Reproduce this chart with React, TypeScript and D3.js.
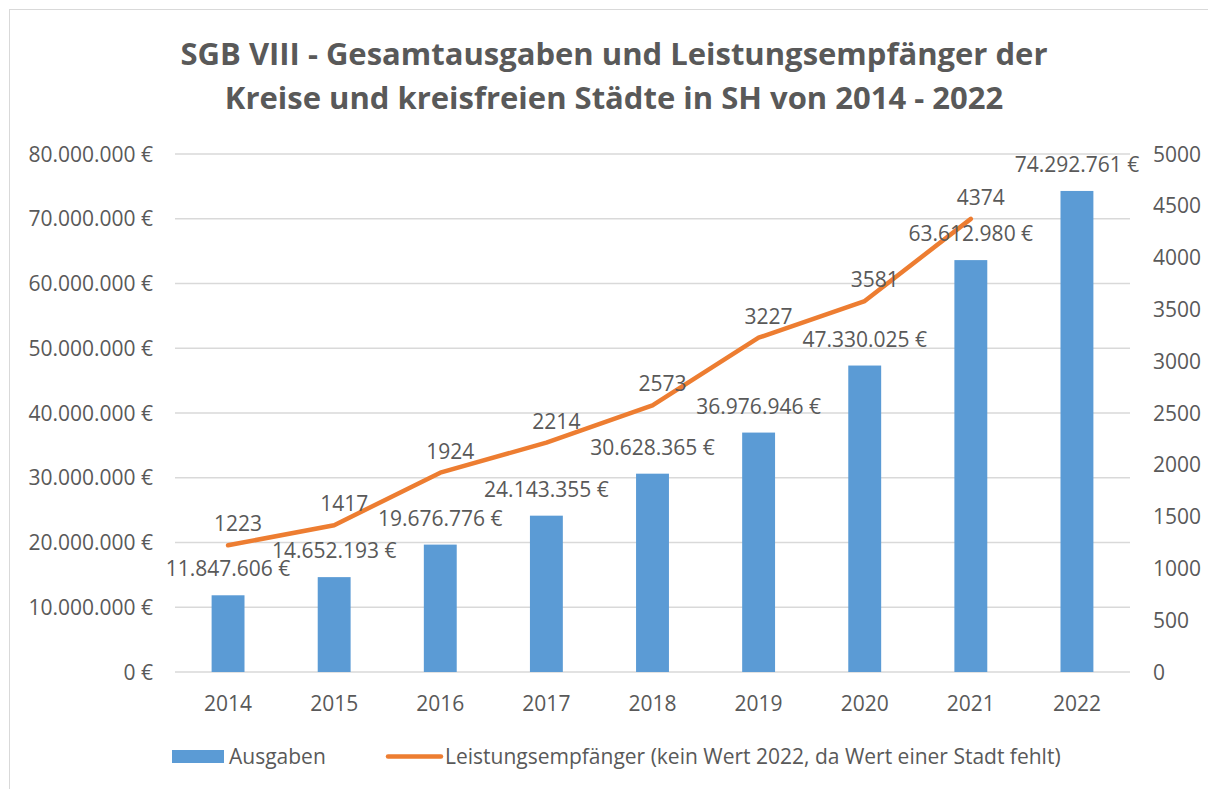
import React from "react";
import * as d3 from "d3";

const years = ["2014", "2015", "2016", "2017", "2018", "2019", "2020", "2021", "2022"];
const ausgaben = [11847606, 14652193, 19676776, 24143355, 30628365, 36976946, 47330025, 63612980, 74292761];
const empfaenger = [1223, 1417, 1924, 2214, 2573, 3227, 3581, 4374];
const leftTicks = [0, 10000000, 20000000, 30000000, 40000000, 50000000, 60000000, 70000000, 80000000];
const rightTicks = [0, 500, 1000, 1500, 2000, 2500, 3000, 3500, 4000, 4500, 5000];
const titleLines = [
  "SGB VIII - Gesamtausgaben und Leistungsempfänger der",
  "Kreise und kreisfreien Städte in SH von 2014 - 2022",
];
const legendLabels = ["Ausgaben", "Leistungsempfänger (kein Wert 2022, da Wert einer Stadt fehlt)"];

const TEXT = "#595959";
const BLUE = "#5B9BD5";
const ORANGE = "#ED7D31";
const GRID = "#D9D9D9";
const FONT = "'Open Sans', 'Noto Sans', sans-serif";

const fmtEuro = (v: number) => {
  const s = Math.round(v).toString().replace(/\B(?=(\d{3})+(?!\d))/g, ".");
  return s + " €";
};

export default function App() {
  const W = 1208, H = 789;
  const left = 175, right = 1130, top = 154, bottom = 672;
  const x = d3.scaleBand<string>().domain(years).range([left, right]).paddingInner(0.69).paddingOuter(0.345);
  const yL = d3.scaleLinear().domain([0, 80000000]).range([bottom, top]);
  const yR = d3.scaleLinear().domain([0, 5000]).range([bottom, top]);
  const cx = (y: string) => (x(y) as number) + x.bandwidth() / 2;
  const line = d3.line<number>().x((_, i) => cx(years[i])).y((d) => yR(d));
  const fs = 21;

  return (
    <svg width={W} height={H} style={{ position: "absolute", left: 0, top: 0 }} fontFamily={FONT}>
      <rect x={0} y={0} width={W} height={H} fill="#fff" />
      <rect x={9.5} y={9.5} width={W + 50} height={H + 50} fill="none" stroke={GRID} strokeWidth={1} />
      {titleLines.map((t, i) => (
        <text key={i} x={614} y={65 + i * 44} textAnchor="middle" fontSize={31} fontWeight="bold" fill={TEXT}>
          {t}
        </text>
      ))}
      {leftTicks.map((t) => (
        <g key={"g" + t}>
          <line x1={left} x2={right} y1={yL(t)} y2={yL(t)} stroke={GRID} strokeWidth={1.3} />
          <text x={153} y={yL(t) + 7.5} textAnchor="end" fontSize={fs} fill={TEXT}>
            {fmtEuro(t)}
          </text>
        </g>
      ))}
      {rightTicks.map((t) => (
        <text key={"r" + t} x={1153} y={yR(t) + 7.5} textAnchor="start" fontSize={fs} fill={TEXT}>
          {t}
        </text>
      ))}
      {years.map((yr, i) => (
        <g key={yr}>
          <rect x={x(yr)} y={yL(ausgaben[i])} width={x.bandwidth()} height={bottom - yL(ausgaben[i])} fill={BLUE} />
          <text x={cx(yr)} y={710.5} textAnchor="middle" fontSize={fs} fill={TEXT}>
            {yr}
          </text>
        </g>
      ))}
      <path d={line(empfaenger) || ""} fill="none" stroke={ORANGE} strokeWidth={4.5} strokeLinecap="round" strokeLinejoin="round" />
      {years.map((yr, i) => (
        <text key={"bl" + yr} x={cx(yr)} y={yL(ausgaben[i]) - 19} textAnchor="middle" fontSize={fs} fill={TEXT}>
          {fmtEuro(ausgaben[i])}
        </text>
      ))}
      {empfaenger.map((v, i) => (
        <text key={"ll" + i} x={cx(years[i]) + 10} y={yR(v) - 14} textAnchor="middle" fontSize={fs} fill={TEXT}>
          {v}
        </text>
      ))}
      <rect x={172} y={750} width={52} height={13} fill={BLUE} />
      <text x={229} y={764} fontSize={fs} fill={TEXT}>{legendLabels[0]}</text>
      <line x1={388} x2={441} y1={756.5} y2={756.5} stroke={ORANGE} strokeWidth={4.5} strokeLinecap="round" />
      <text x={445} y={764} fontSize={fs} fill={TEXT}>{legendLabels[1]}</text>
    </svg>
  );
}
